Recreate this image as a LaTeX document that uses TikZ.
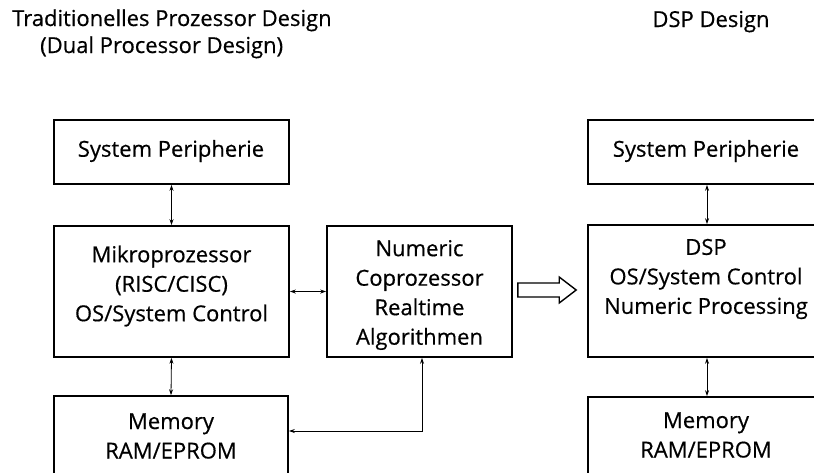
\documentclass[tikz,border=0pt]{standalone}
\usepackage{fontspec}
\setmainfont{Open Sans}[FakeBold=0.5]
\usetikzlibrary{arrows.meta,calc}
\begin{document}
\begin{tikzpicture}[x=1pt,y=-1pt,
  box/.style={draw,line width=1.6pt,inner sep=0,rectangle},
  lbl/.style={align=center,inner sep=0,font=\fontsize{22}{29.5}\selectfont},
  ttl/.style={inner sep=0,font=\fontsize{22}{29.5}\selectfont},
  link/.style={line width=0.8pt,{Stealth[length=6pt,width=4pt]}-{Stealth[length=6pt,width=4pt]}},
  hollow/.style={draw,line width=1.4pt,line join=miter}]
\useasboundingbox (0,0) rectangle (814,472);
\clip (0,0) rectangle (814,472);
% titles
\node[ttl,anchor=base west] (title1) at (12,26) {Traditionelles Prozessor Design};
\node[ttl,anchor=base west] (title2) at (40,53) {(Dual Processor Design)};
\node[ttl,anchor=base] (title3) at (711,27) {DSP Design};
% left boxes
\node[box,minimum width=235,minimum height=64] (sp1) at (171.5,152) {};
\node[box,minimum width=235,minimum height=131] (mp) at (171.5,291.5) {};
\node[box,minimum width=185,minimum height=131] (num) at (419.5,291.5) {};
\node[box,minimum width=234,minimum height=104] (mem1) at (171,448) {};
% right boxes
\node[box,minimum width=238,minimum height=64] (sp2) at (707,152) {};
\node[box,minimum width=238,minimum height=132] (dsp) at (707,291) {};
\node[box,minimum width=238,minimum height=103] (mem2) at (707,448.5) {};
% texts
\node[lbl] (tsp1) at (171,151) {System Peripherie};
\node[lbl] (tmp) at (171.5,286) {Mikroprozessor\\(RISC/CISC)\\OS/System Control};
\node[lbl] (tnum) at (419.5,295) {Numeric\\Coprozessor\\Realtime\\Algorithmen};
\node[lbl] (tmem1) at (171,436) {Memory\\RAM/EPROM};
\node[lbl] (tsp2) at (706,151) {System Peripherie};
\node[lbl] (tdsp) at (706,279) {DSP\\OS/System Control\\Numeric Processing};
\node[lbl] (tmem2) at (706,435) {Memory\\RAM/EPROM};
% connectors
\draw[link] (sp1.south) -- (mp.north);
\draw[link] (mp.south) -- (mem1.north);
\draw[link] (mp.east) -- (num.west);
\coordinate (turn) at (422,431);
\draw[link] ($(num.south)+(2.5,0)$) -- (turn) -- (turn -| mem1.east);
\draw[link] (sp2.south) -- (dsp.north);
\draw[link] (dsp.south) -- (mem2.north);
% big hollow arrow from the coprocessor side to the DSP side
\coordinate (bs) at ($(num.east)+(5,-1.5)$);
\coordinate (bt) at ($(dsp.west)+(-11,-1)$);
\draw[hollow] ($(bs)+(0,-7)$) -- ($(bt)+(-17,-7)$) -- ($(bt)+(-17,-13)$) -- (bt)
  -- ($(bt)+(-17,13)$) -- ($(bt)+(-17,7)$) -- ($(bs)+(0,7)$) -- cycle;
\end{tikzpicture}
\end{document}
